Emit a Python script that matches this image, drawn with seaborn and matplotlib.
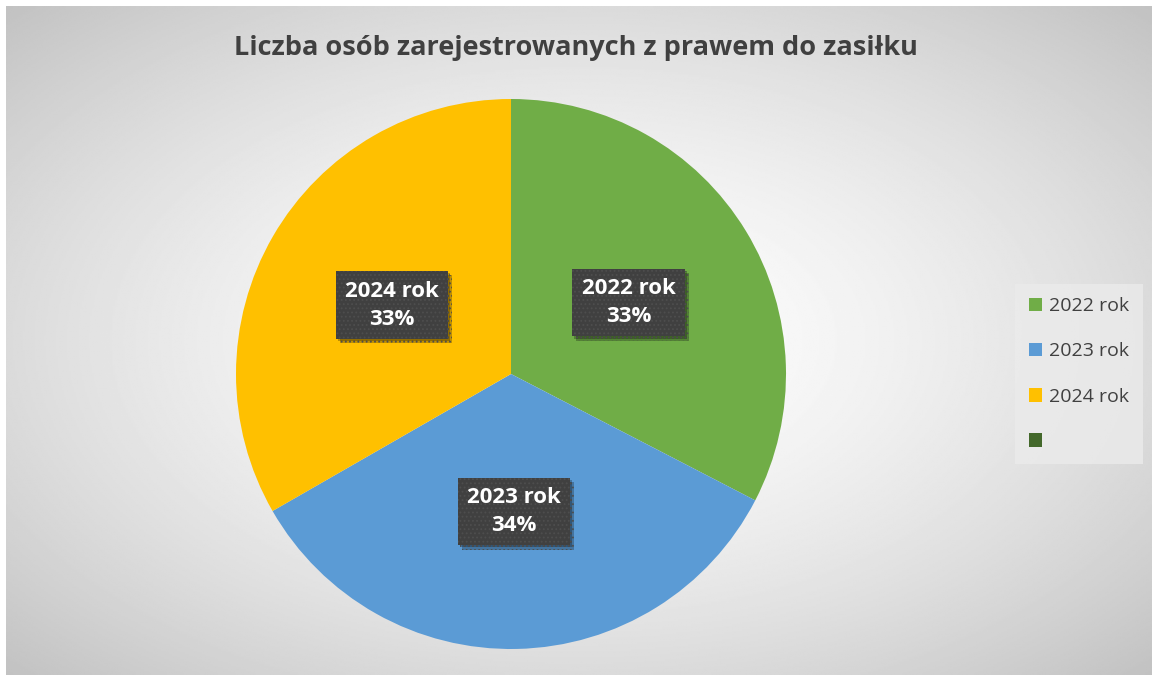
import numpy as np
import matplotlib
matplotlib.use("Agg")
import matplotlib.pyplot as plt
import matplotlib.patches as mpatches
import matplotlib.patheffects as pe
import seaborn as sns

# Data
categories = ["2022 rok", "2023 rok", "2024 rok", ""]
shares = [32.6, 34.1, 33.3, 0]
pct_labels = ["33%", "34%", "33%", ""]
colors = ["#70AD47", "#5B9BD5", "#FFC000", "#43682B"]

sns.set_theme(style="white")
plt.rcParams["font.family"] = ["Open Sans", "DejaVu Sans"]
plt.rcParams["hatch.linewidth"] = 0.8

fig = plt.figure(figsize=(11.52, 6.75), dpi=100)
fig.patch.set_facecolor("white")

# Radial gradient background
bg = fig.add_axes([6 / 1152, 0, 1 - 6 / 1152, 1 - 6 / 675])
bg.set_axis_off()
yy, xx = np.mgrid[0:1:400j, 0:1:700j]
r = np.sqrt(((xx - 0.5) / 0.5) ** 2 + ((yy - 0.5) / 0.5) ** 2) / np.sqrt(2)
shade = 1 - 0.24 * np.clip(r, 0, 1) ** 1.5
bg.imshow(shade, cmap="gray", vmin=0, vmax=1, aspect="auto", extent=[0, 1, 0, 1], zorder=0)
bg.set_xlim(0, 1)
bg.set_ylim(0, 1)

# Pie
ax = fig.add_axes([236 / 1152, 26 / 675, 550 / 1152, 550 / 675])
ax.set_axis_off()

vals = [v for v in shares if v > 0]
cols = colors[:len(vals)]
wedges, _ = ax.pie(vals, colors=cols, startangle=90, counterclock=False, radius=1,
                   wedgeprops=dict(edgecolor="white", linewidth=0))
ax.set_xlim(-1, 1)
ax.set_ylim(-1, 1)
ax.set_aspect("equal")

# Labels at mid-wedge
for w, cat, pct in zip(wedges, categories, pct_labels):
    ang = np.deg2rad((w.theta1 + w.theta2) / 2)
    x, y = 0.5 * np.cos(ang), 0.5 * np.sin(ang)
    t = ax.text(x, y, f"{cat}\n{pct}", ha="center", va="center", color="white",
                fontsize=16, fontweight="bold", linespacing=1.45,
                bbox=dict(boxstyle="square,pad=0.42", facecolor="#404040",
                          edgecolor="#4e4e4e", linewidth=0, hatch="...."))
    t.get_bbox_patch().set_path_effects([
        pe.SimplePatchShadow(offset=(3, -3), shadow_rgbFace="black", alpha=0.25),
        pe.SimplePatchShadow(offset=(1.5, -1.5), shadow_rgbFace="black", alpha=0.25),
        pe.Normal()])

fig.text(0.5, 1 - 48 / 675, "Liczba osób zarejestrowanych z prawem do zasiłku",
         ha="center", va="center", fontsize=19.5, fontweight="bold", color="#404040")

# Legend
handles = [mpatches.Patch(facecolor=c, edgecolor="none") for c in colors]
leg = fig.legend(handles, categories, loc="center", bbox_to_anchor=(1079 / 1152, 1 - 374 / 675),
                 frameon=True, fontsize=14, labelcolor="#404040",
                 handlelength=0.7, handleheight=0.7, handletextpad=0.35,
                 labelspacing=1.4, borderpad=0.7, fancybox=False)
leg.get_frame().set_facecolor("#ebebeb")
leg.get_frame().set_edgecolor("none")
leg.get_frame().set_alpha(0.8)

plt.savefig("out.png", dpi=100)
